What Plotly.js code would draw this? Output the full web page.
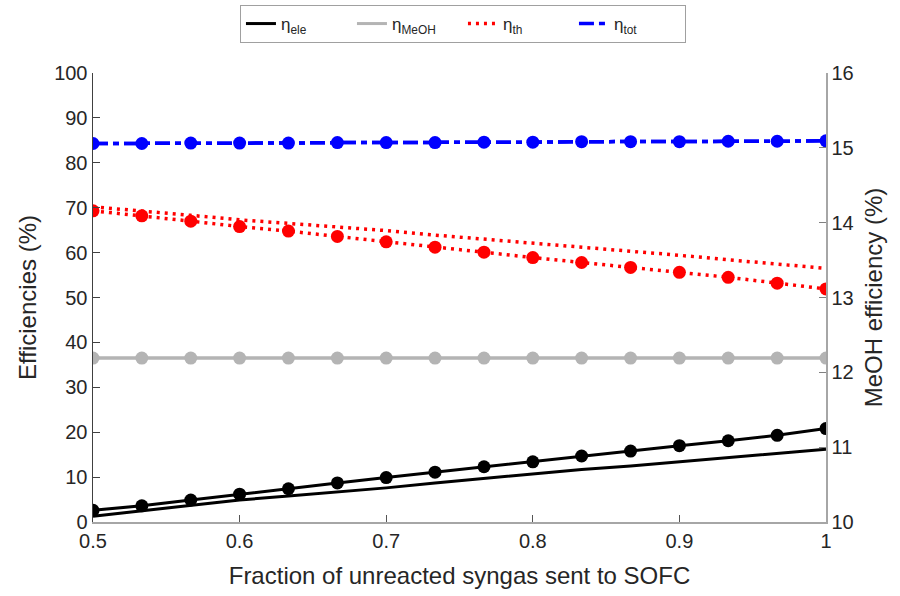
<!DOCTYPE html>
<html>
<head>
<meta charset="utf-8">
<script src="https://cdn.plot.ly/plotly-3.0.1.min.js"></script>
<style>html,body{margin:0;padding:0;background:#fff;}#chart{width:900px;height:596px;}</style>
</head>
<body>
<div id="chart"></div>
<script>
const fraction = [0.5, 0.5333, 0.5667, 0.6, 0.6333, 0.6667, 0.7, 0.7333, 0.7667, 0.8, 0.8333, 0.8667, 0.9, 0.9333, 0.9667, 1.0];
const etaEleA = [2.6, 3.6, 4.9, 6.2, 7.4, 8.7, 9.9, 11.1, 12.3, 13.4, 14.7, 15.8, 17.0, 18.1, 19.3, 20.8];
const etaEleB = [1.3, 2.5, 3.7, 4.9, 5.8, 6.7, 7.6, 8.7, 9.7, 10.8, 11.7, 12.5, 13.4, 14.3, 15.2, 16.2];
const etaThA = [69.3, 68.2, 67.0, 65.8, 64.8, 63.6, 62.4, 61.2, 60.1, 58.9, 57.8, 56.7, 55.6, 54.5, 53.2, 51.9];
const etaThB = [70.2, 69.3, 68.3, 67.3, 66.5, 65.7, 64.9, 63.9, 63.0, 62.2, 61.2, 60.3, 59.4, 58.4, 57.4, 56.5];
const etaTotA = [84.3, 84.3, 84.4, 84.4, 84.4, 84.5, 84.5, 84.5, 84.6, 84.6, 84.7, 84.7, 84.7, 84.8, 84.8, 84.9];
const etaTotB = [84.3, 84.3, 84.4, 84.4, 84.4, 84.5, 84.5, 84.5, 84.6, 84.6, 84.7, 84.7, 84.7, 84.8, 84.8, 84.9];
const etaMeOH = [12.19, 12.19, 12.19, 12.19, 12.19, 12.19, 12.19, 12.19, 12.19, 12.19, 12.19, 12.19, 12.19, 12.19, 12.19, 12.19];
const xTickVals = [0.5, 0.6, 0.7, 0.8, 0.9, 1.0];
const xTickText = ['0.5', '0.6', '0.7', '0.8', '0.9', '1'];
const names = ['η<sub>ele</sub>', 'η<sub>MeOH</sub>', 'η<sub>th</sub>', 'η<sub>tot</sub>'];

const cBlack = '#000000', cGrey = '#b4b4b4', cRed = '#ff0000', cBlue = '#0000ff';
const mk = c => ({size: 13, color: c});
const redDash = '3px,5px';
const blueDash = '15px,5px,6px,5px';

const traces = [
  {x: fraction, y: etaEleB, mode: 'lines', line: {color: cBlack, width: 3}, name: names[0], showlegend: true},
  {x: fraction, y: etaMeOH, yaxis: 'y2', mode: 'lines', line: {color: cGrey, width: 3}, name: names[1], showlegend: true},
  {x: fraction, y: etaThB, mode: 'lines', line: {color: cRed, width: 3.5, dash: redDash}, name: names[2], showlegend: true},
  {x: fraction, y: etaTotB, mode: 'lines', line: {color: cBlue, width: 3.5, dash: blueDash}, name: names[3], showlegend: true},
  {x: fraction, y: etaEleA, mode: 'lines+markers', line: {color: cBlack, width: 3}, marker: mk(cBlack), showlegend: false},
  {x: fraction, y: etaMeOH, yaxis: 'y2', mode: 'lines+markers', line: {color: cGrey, width: 3}, marker: mk(cGrey), showlegend: false},
  {x: fraction, y: etaThA, mode: 'lines+markers', line: {color: cRed, width: 3.5, dash: redDash}, marker: mk(cRed), showlegend: false},
  {x: fraction, y: etaTotA, mode: 'lines+markers', line: {color: cBlue, width: 3.5, dash: blueDash}, marker: mk(cBlue), showlegend: false}
];

const FAM = 'Liberation Sans, Arial, sans-serif';
const tickFont = {family: FAM, size: 20, color: '#262626'};
const layout = {
  width: 900, height: 596,
  margin: {l: 93, r: 74, t: 73, b: 74},
  paper_bgcolor: '#ffffff', plot_bgcolor: '#ffffff',
  font: tickFont,
  showlegend: true,
  legend: {
    orientation: 'h', xref: 'container', yref: 'container',
    x: 0.5144, xanchor: 'center', y: 0.9916, yanchor: 'top',
    bordercolor: '#a0a0a0', borderwidth: 1, bgcolor: '#ffffff',
    font: {family: FAM, size: 17, color: '#262626'},
    entrywidth: 66, entrywidthmode: 'pixels', traceorder: 'normal'
  },
  xaxis: {
    range: [0.5, 1.0], tickvals: xTickVals, ticktext: xTickText,
    showgrid: false, zeroline: false, showline: true, linecolor: '#a6a6a6', linewidth: 1.5,
    ticks: 'inside', ticklen: 7, tickcolor: '#555555', mirror: false,
    title: {text: 'Fraction of unreacted syngas sent to SOFC', font: {family: FAM, size: 24, color: '#262626'}, standoff: 16},
    tickfont: tickFont
  },
  yaxis: {
    range: [0, 100], tickvals: [0,10,20,30,40,50,60,70,80,90,100],
    showgrid: false, zeroline: false, showline: true, linecolor: '#404040', linewidth: 1.5,
    ticks: 'inside', ticklen: 7, tickcolor: '#404040',
    title: {text: 'Efficiencies (%)', font: {family: FAM, size: 24, color: '#262626'}, standoff: 10},
    tickfont: tickFont
  },
  yaxis2: {
    overlaying: 'y', side: 'right', range: [10, 16], tickvals: [10,11,12,13,14,15,16],
    showgrid: false, zeroline: false, showline: true, linecolor: '#a6a6a6', linewidth: 1.5,
    ticks: 'inside', ticklen: 7, tickcolor: '#808080',
    title: {text: 'MeOH efficiency (%)', font: {family: FAM, size: 24, color: '#262626'}, standoff: 12},
    tickfont: tickFont
  }
};

Plotly.newPlot('chart', traces, layout, {displayModeBar: false, staticPlot: true});
</script>
</body>
</html>
